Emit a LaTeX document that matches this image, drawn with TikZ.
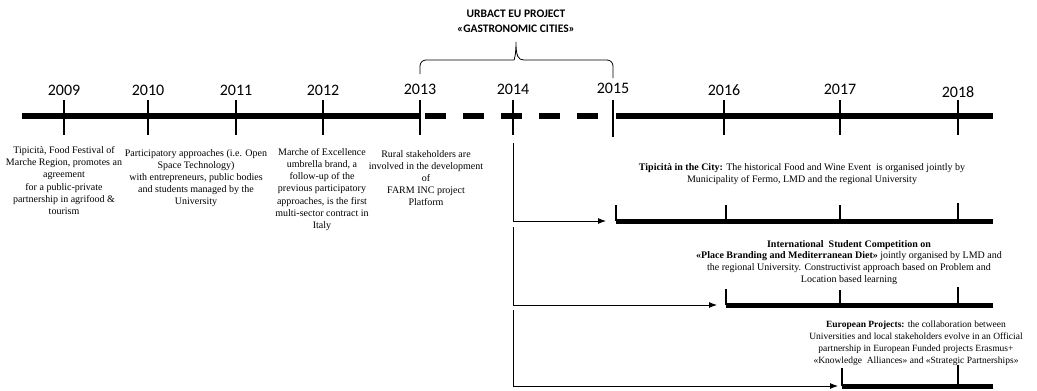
\documentclass[tikz,border=0pt]{standalone}
\usepackage{fontspec}
\setmainfont{Liberation Serif}
\newfontfamily\yearfont{Carlito}
\usetikzlibrary{arrows.meta}

\tikzset{
	yearlabel/.style={font=\yearfont\fontsize{16}{18}\selectfont, inner sep=0pt},
	headline/.style={font=\yearfont\bfseries\fontsize{11.5}{15}\selectfont, align=center, inner sep=0pt},
	event/.style={font=\fontsize{10}{12.1}\selectfont, align=center, inner sep=0pt},
	project/.style={font=\fontsize{10}{11.9}\selectfont, align=center, inner sep=0pt},
	yeartick/.style={line width=1.2pt},
	mainbar/.style={line width=6pt},
	subbar/.style={line width=5pt},
	elbow/.style={line width=0.9pt, -{Latex[length=8pt,width=6pt]}}
}

\begin{document}
\begin{tikzpicture}[x=1pt, y=-1pt]
		\useasboundingbox (0,0) rectangle (1037,391);
		\draw[mainbar] (22,116) -- (420,116);
		\draw[mainbar, dash pattern=on 21pt off 17pt] (425,116) -- (600,116);
		\draw[mainbar] (616,116) -- (993,116);
		\node[yearlabel] (y2009) at (64,90) {2009};
		\node[yearlabel] (y2010) at (148,90) {2010};
		\node[yearlabel] (y2011) at (236,90) {2011};
		\node[yearlabel] (y2012) at (323,90) {2012};
		\node[yearlabel] (y2013) at (420,89) {2013};
		\node[yearlabel] (y2014) at (513,89) {2014};
		\node[yearlabel] (y2015) at (613,88) {2015};
		\node[yearlabel] (y2016) at (724,90) {2016};
		\node[yearlabel] (y2017) at (840,89) {2017};
		\node[yearlabel] (y2018) at (958,92) {2018};
		\draw[yeartick] (64,100) -- (64,135);
		\draw[yeartick] (148,100) -- (148,135);
		\draw[yeartick] (236,100) -- (236,135);
		\draw[yeartick] (323,100) -- (323,135);
		\draw[yeartick] (420,100) -- (420,135);
		\draw[yeartick] (513,100) -- (513,135);
		\draw[yeartick] (613,100) -- (613,137);
		\draw[yeartick] (724,100) -- (724,135);
		\draw[yeartick] (840,100) -- (840,135);
		\draw[yeartick] (958,100) -- (958,135);
		\node[headline] (urbact) at (516,21) {URBACT EU PROJECT\\«GASTRONOMIC CITIES»};
		\draw[line width=0.8pt] (420,74) [rounded corners=6pt] -- (420,60) -- (508,60) [sharp corners]
		.. controls (514,60) and (516,56) .. (516,42)
		.. controls (516,56) and (518,60) .. (524,60) [rounded corners=6pt] -- (613,60) -- (613,78);
		\node[event] (tipicita) at (64,180.5) {Tipicità, Food Festival of\\Marche Region, promotes an\\agreement\\for a public-private\\partnership in agrifood \&\\tourism};
		\node[event] (participatory) at (196,178) {Participatory approaches (i.e. Open\\Space Technology)\\with entrepreneurs, public bodies\\and students managed by the\\University};
		\node[event] (excellence) at (322,189.5) {Marche of Excellence\\umbrella brand, a\\follow-up of the\\previous participatory\\approaches, is the first\\multi-sector contract in\\Italy};
		\node[event] (farminc) at (426,178) {Rural stakeholders are\\involved in the development\\of\\FARM INC project\\Platform};
		\coordinate (d1) at (513,143);
		\coordinate (d2) at (513,227);
		\coordinate (d3) at (513,310);
		\coordinate (s1) at (616,221);
		\coordinate (s2) at (726,305);
		\coordinate (s3) at (842,386);
		\draw[elbow, shorten >=10pt] (d1) |- (s1);
		\draw[elbow, shorten >=9pt] (d2) |- (s2);
		\draw[elbow, shorten >=4pt] (d3) |- (s3);
		\draw[subbar] (s1) -- (993,221);
		\draw[yeartick] (616,205) -- (s1);
		\draw[yeartick] (726,205) -- (726,221);
		\draw[yeartick] (840,205) -- (840,221);
		\draw[yeartick] (958,203) -- (958,221);
		\draw[subbar] (s2) -- (993,305);
		\draw[yeartick] (726,289) -- (s2);
		\draw[yeartick] (840,290) -- (840,305);
		\draw[yeartick] (958,287) -- (958,305);
		\draw[subbar] (s3) -- (993,386);
		\draw[yeartick] (842,368) -- (s3);
		\draw[yeartick] (958,365) -- (958,386);
		\node[project] (city) at (802,174.5) {\textbf{Tipicità in the City:} The historical Food and Wine Event\ \ is organised jointly by\\Municipality of Fermo, LMD and the regional University};
		\node[project] (competition) at (849,262.5) {\textbf{International\ \ Student Competition on}\\\textbf{«Place Branding and Mediterranean Diet»} jointly organised by LMD and\\the regional University. Constructivist approach based on Problem and\\Location based learning};
		\node[project, font=\fontsize{9.5}{11.9}\selectfont] (european) at (916,343) {\textbf{European Projects:} the collaboration between\\Universities and local stakeholders evolve in an Official\\partnership in European Funded projects Erasmus+\\«Knowledge\ \ Alliances» and «Strategic Partnerships»};
\end{tikzpicture}
\end{document}
